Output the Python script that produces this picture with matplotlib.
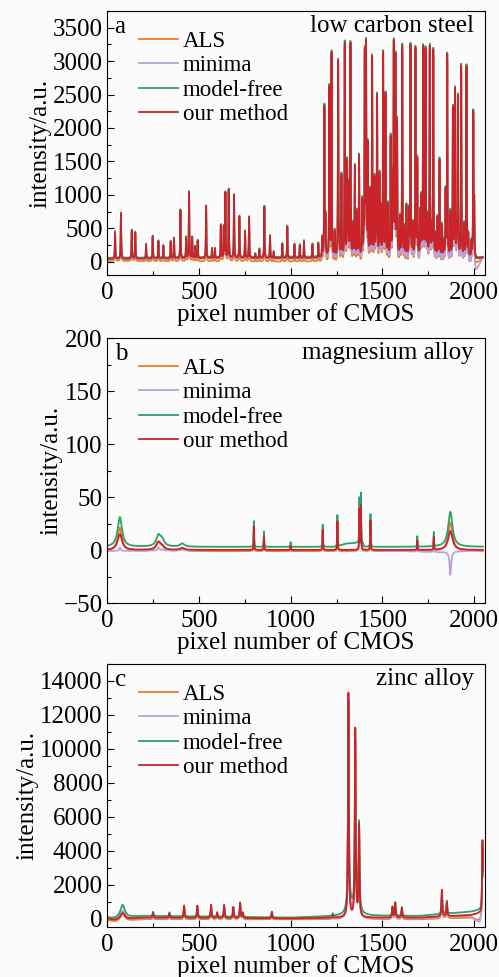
import numpy as np
import matplotlib
matplotlib.use("Agg")
import matplotlib.pyplot as plt
from matplotlib.ticker import MultipleLocator

# ---- data (peak position, peak height) ----
pixels = np.arange(0, 2048)

# panel a: low carbon steel
a_peak_x = [44, 76, 135, 154, 213, 249, 280, 307, 347, 365, 400, 431, 447, 464, 480,
            494, 540, 572, 588, 620, 636, 645, 663, 692, 721, 752, 774, 808, 830, 857,
            888, 908, 955, 982, 1021, 1050, 1073, 1119, 1151, 1172,
            1184, 1211, 1223, 1259, 1277, 1295, 1308, 1326, 1350, 1373, 1390, 1404,
            1411, 1420, 1444, 1457, 1471, 1484, 1504, 1517, 1545, 1562, 1571, 1580,
            1608, 1631, 1653, 1680, 1690, 1705, 1722, 1735, 1758, 1777, 1811, 1844,
            1853, 1884, 1895, 1911, 1929, 1958, 1995,
            1190, 1240, 1265, 1315, 1340, 1362, 1398, 1432, 1465, 1492, 1530, 1555,
            1595, 1620, 1645, 1665, 1712, 1745, 1768, 1790, 1800, 1825, 1835, 1870,
            1905, 1945, 1968, 1985, 2000]
a_peak_y = [400, 680, 420, 390, 210, 330, 260, 190, 250, 300, 720, 310, 990, 310, 170,
            260, 780, 140, 140, 490, 460, 970, 1020, 940, 620, 400, 610, 60, 130, 770,
            330, 90, 210, 470, 200, 190, 250, 200, 210, 280,
            2240, 2520, 3030, 2910, 1200, 3180, 1380, 3170, 1330, 1490, 820, 2980,
            3100, 1630, 2960, 1140, 2370, 1200, 3020, 2400, 1760, 3120, 2930, 1980,
            3140, 740, 3140, 3090, 1420, 640, 3100, 3070, 3120, 3070, 1440, 960,
            3000, 2200, 2470, 2370, 2840, 2840, 2140,
            560, 360, 310, 1030, 460, 650, 410, 950, 560, 700, 750, 1150,
            560, 410, 650, 460, 850, 560, 410, 310, 560, 460, 210, 650,
            360, 460, 310, 210, 800]
a_base_x = [0, 600, 1150, 1200, 1600, 1990, 2010, 2048]
a_base_ours = [40, 50, 50, 60, 60, 60, 30, 60]
a_base_als = [10, 0, 0, -40, -50, -40, -40, 50]
a_base_minima = [30, 40, 40, 0, -20, -40, -150, 60]
a_base_free = [55, 65, 70, 90, 90, 90, 50, 70]

# panel b: magnesium alloy
b_peak_x = [800, 855, 1000, 1175, 1255, 1375, 1383, 1435, 1690, 1780]
b_peak_y = [22, 13, 4, 19, 27, 38, 42, 28, 9, 12]
b_broad_x = [70, 280, 300, 410, 1870]
b_broad_ours = [15, 7, 3, 2, 18]
b_broad_als = [22, 8, 3, 2, 27]
b_broad_minima = [3, 3, 1, 1, -22]
b_broad_free = [28, 10, 6, 3, 33]
b_base_x = [0, 600, 1250, 1300, 1390, 1400, 1800, 2048]
b_base_ours = [0, 0, 0, 0, 0, 0, 0, 0]
b_base_als = [-1, -1, -1, -1, -1, -1, -1, -1]
b_base_minima = [-1, 0, 0, 0, 0, 0, -2, 0]
b_base_free = [3, 3, 3, 6, 7, 3, 3, 3]

# panel c: zinc alloy
c_peak_x = [251, 340, 420, 492, 567, 600, 638, 688, 725, 740, 898, 1230,
            1315, 1352, 1373, 1555, 1570, 1606, 1824, 1851, 2045]
c_peak_y = [280, 250, 710, 710, 770, 300, 770, 650, 910, 300, 375, 150,
            13200, 11060, 5380, 600, 870, 575, 1560, 830, 4570]
c_broad_x = [85, 1320, 1360]
c_broad_ours = [380, 0, 0]
c_broad_als = [450, 300, 600]
c_broad_minima = [500, 400, 500]
c_broad_free = [770, 800, 1100]
c_base_x = [0, 40, 200, 1000, 1300, 1700, 1980, 2030, 2048]
c_base_ours = [0, -100, 50, 0, 50, 50, 200, 300, 0]
c_base_als = [-100, -200, -50, -50, -50, -50, 50, -150, -100]
c_base_minima = [0, -50, 0, 0, 0, 0, 150, -300, 0]
c_base_free = [50, 0, 150, 50, 150, 150, 400, 500, 50]

methods = ["ALS", "minima", "model-free", "our method"]
colors = ["#f07a2e", "#b8a2d8", "#2aa26a", "#cc2229"]


def lorentz(center, height, gamma):
    return height / (1 + ((pixels - center) / gamma) ** 2)


def spectrum(px, py, bx, by, broad_x=(), broad_y=(), scale=1.0, gamma=1.3, broad_gamma=14):
    y = np.interp(pixels, bx, by).astype(float)
    for c, h in zip(px, py):
        y += lorentz(c, h * scale, gamma)
    for c, h in zip(broad_x, broad_y):
        y += lorentz(c, h, broad_gamma)
    return y


fig = plt.figure(figsize=(4.99, 9.77), dpi=100, facecolor="#fafafa")
plt.rcParams["font.family"] = ["Liberation Serif", "DejaVu Serif"]
fs = 18

panels = [
    dict(name="a", title="low carbon steel", ylim=(-200, 3750), major=500, minor=250,
         rect=[0.2144, 0.7185, 0.758, 0.2702],
         series=[spectrum(a_peak_x, a_peak_y, a_base_x, a_base_als),
                 spectrum(a_peak_x, a_peak_y, a_base_x, a_base_minima),
                 spectrum(a_peak_x, a_peak_y, a_base_x, a_base_free),
                 spectrum(a_peak_x, a_peak_y, a_base_x, a_base_ours)]),
    dict(name="b", title="magnesium alloy", ylim=(-50, 200), major=50, minor=25,
         rect=[0.2144, 0.3828, 0.758, 0.2712],
         series=[spectrum(b_peak_x, b_peak_y, b_base_x, b_base_als, b_broad_x, b_broad_als),
                 spectrum(b_peak_x, b_peak_y, b_base_x, b_base_minima, b_broad_x, b_broad_minima, broad_gamma=5),
                 spectrum(b_peak_x, b_peak_y, b_base_x, b_base_free, b_broad_x, b_broad_free, scale=1.1),
                 spectrum(b_peak_x, b_peak_y, b_base_x, b_base_ours, b_broad_x, b_broad_ours)]),
    dict(name="c", title="zinc alloy", ylim=(-500, 15000), major=2000, minor=1000,
         rect=[0.2144, 0.0512, 0.758, 0.2692],
         series=[spectrum(c_peak_x, c_peak_y, c_base_x, c_base_als, c_broad_x, c_broad_als, scale=0.9, gamma=2.5),
                 spectrum(c_peak_x, c_peak_y, c_base_x, c_base_minima, c_broad_x, c_broad_minima, scale=0.9, gamma=2.5),
                 spectrum(c_peak_x, c_peak_y, c_base_x, c_base_free, c_broad_x, c_broad_free, scale=0.9, gamma=2.5),
                 spectrum(c_peak_x, c_peak_y, c_base_x, c_base_ours, c_broad_x, c_broad_ours, gamma=2.5)]),
]

for p in panels:
    ax = fig.add_axes(p["rect"])
    ax.set_facecolor("#fbfbfb")
    for name, col, y in zip(methods, colors, p["series"]):
        ax.plot(pixels, y, color=col, lw=1.3, label=name)
    ax.set_xlim(0, 2060)
    ax.set_ylim(*p["ylim"])
    ax.xaxis.set_major_locator(MultipleLocator(500))
    ax.xaxis.set_minor_locator(MultipleLocator(250))
    ax.yaxis.set_major_locator(MultipleLocator(p["major"]))
    ax.yaxis.set_minor_locator(MultipleLocator(p["minor"]))
    ax.tick_params(which="both", direction="in", labelsize=fs, width=0.8)
    ax.tick_params(axis="y", pad=3)
    ax.tick_params(axis="x", pad=5)
    ax.tick_params(which="major", length=5)
    ax.tick_params(which="minor", length=3)
    for s in ax.spines.values():
        s.set_linewidth(0.8)
    ax.set_xlabel("pixel number of CMOS", fontsize=fs, labelpad=-1)
    ax.set_ylabel("intensity/a.u.", fontsize=fs, labelpad=1)
    ax.text(0.02, 0.98, p["name"], transform=ax.transAxes, fontsize=fs, va="top", ha="left")
    ax.text(0.97, 0.985, p["title"], transform=ax.transAxes, fontsize=fs, va="top", ha="right")
    ax.legend(loc="upper left", bbox_to_anchor=(0.085, 0.925), frameon=False, fontsize=16.5,
              handlelength=1.7, handletextpad=0.2, labelspacing=0.15, borderpad=0,
              borderaxespad=0)

fig.savefig("out.png", dpi=100, facecolor=fig.get_facecolor())
